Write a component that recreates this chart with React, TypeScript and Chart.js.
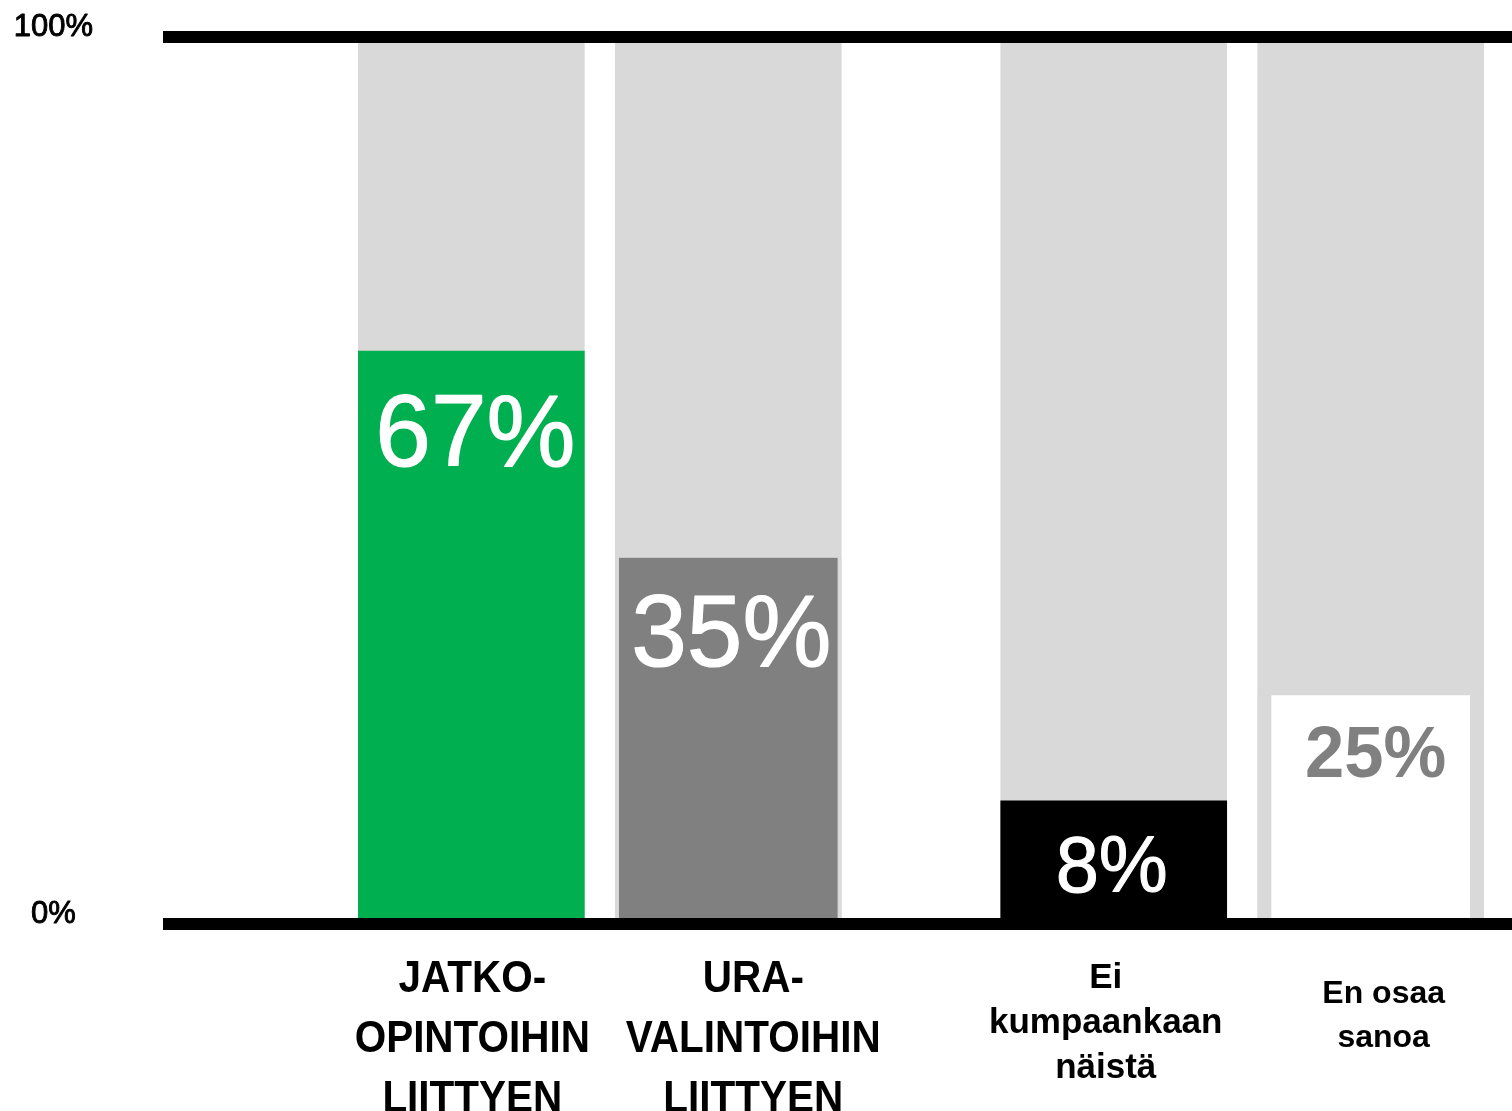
import React, { useEffect, useRef } from "react";
import { Chart, registerables } from "chart.js";

Chart.register(...registerables);

// ---------- data ----------
const categories: string[][] = [
  ["JATKO-", "OPINTOIHIN", "LIITTYEN"],
  ["URA-", "VALINTOIHIN", "LIITTYEN"],
  ["Ei", "kumpaankaan", "näistä"],
  ["En osaa", "sanoa"],
];
const barHeights = [64.6, 41.3, 13.9, 25.8];
const valueLabels = ["67%", "35%", "8%", "25%"];
const backgroundValues = [100, 100, 100, 100];
const yTickValues = [0, 100];
const yTickLabels = ["0%", "100%"];

// ---------- layout & style ----------
const CANVAS_W = 1512;
const CANVAS_H = 1111;
const SLOTS = [2, 4, 7, 9];
const X_MIN = -0.4;
const X_MAX = 10.1;
const BAR_W = 226;
const BAR_COLORS = ["#00B050", "#808080", "#000000", "#FFFFFF"];
const BAR_INSETS = [0, 4, 0, 14];
const BG_COLOR = "#D9D9D9";
const SANS = '"Liberation Sans", Arial, sans-serif';

const VALUE_COLORS = ["#FFFFFF", "#FFFFFF", "#FFFFFF", "#808080"];
const VALUE_FONTS = [`102px ${SANS}`, `102px ${SANS}`, `80px ${SANS}`, `bold 72px ${SANS}`];
const VALUE_SCALE = [0.98, 0.98, 0.97, 0.98];
const VALUE_STROKE = [1.2, 1.2, 1, 0];
const VALUE_BASE = [115, 108, 91, 82];
const VALUE_DX = [4, 3, -2, 5];

const CAT_FONTS = [`bold 44px ${SANS}`, `bold 44px ${SANS}`, `bold 35px ${SANS}`, `bold 32px ${SANS}`];
const CAT_SCALE = [0.92, 0.92, 1, 1];
const CAT_FIRST = [68, 68, 64, 79];
const CAT_LINE_H = [60, 60, 45, 43.5];
const CAT_DX = [1, 25, -8, 13];

const fgData = SLOTS.map((s, k) => ({ x: s, y: barHeights[k] }));
const bgData = SLOTS.map((s, k) => ({ x: s, y: backgroundValues[k] }));

function drawText(
  ctx: CanvasRenderingContext2D,
  text: string,
  x: number,
  y: number,
  font: string,
  color: string,
  scaleX = 1,
  stroke = 0
) {
  ctx.save();
  ctx.translate(x, y);
  ctx.scale(scaleX, 1);
  ctx.font = font;
  ctx.textAlign = "center";
  ctx.textBaseline = "alphabetic";
  ctx.fillStyle = color;
  ctx.fillText(text, 0, 0);
  if (stroke > 0) {
    ctx.strokeStyle = color;
    ctx.lineWidth = stroke;
    ctx.lineJoin = "round";
    ctx.strokeText(text, 0, 0);
  }
  ctx.restore();
}

const labelsPlugin = {
  id: "customLabels",
  afterDraw(chart: any) {
    const ctx = chart.ctx;
    const xs = chart.scales.x;
    const ys = chart.scales.y;
    const area = chart.chartArea;
    const meta = chart.getDatasetMeta(0);
    // value labels inside bars
    SLOTS.forEach((_, k) => {
      const el = meta.data[k];
      if (!el) return;
      drawText(ctx, valueLabels[k], el.x + VALUE_DX[k], el.y + VALUE_BASE[k], VALUE_FONTS[k], VALUE_COLORS[k], VALUE_SCALE[k], VALUE_STROKE[k]);
    });
    // category labels
    SLOTS.forEach((slot, k) => {
      const x = xs.getPixelForValue(slot) + CAT_DX[k];
      categories[k].forEach((line, j) => {
        drawText(ctx, line, x, area.bottom + CAT_FIRST[k] + j * CAT_LINE_H[k], CAT_FONTS[k], "#000000", CAT_SCALE[k], 0);
      });
    });
    // y labels
    yTickValues.forEach((v, k) => {
      const y = ys.getPixelForValue(v);
      drawText(ctx, yTickLabels[k], 53.5, y - 1, `31px ${SANS}`, "#000000", 1, 0.9);
    });
  },
};

export default function App() {
  const ref = useRef<HTMLCanvasElement | null>(null);
  useEffect(() => {
    if (!ref.current) return;
    const chart = new Chart(ref.current, {
      type: "bar",
      data: {
        datasets: [
          {
            data: fgData as any,
            order: 0,
            grouped: false,
            barThickness: BAR_W,
            backgroundColor: (c: any) => BAR_COLORS[c.dataIndex] ?? "transparent",
            borderColor: BG_COLOR,
            borderSkipped: false,
            borderWidth: (c: any) => {
              const w = BAR_INSETS[c.dataIndex] ?? 0;
              return { left: w, right: w, top: 0, bottom: 0 };
            },
          } as any,
          {
            data: bgData as any,
            order: 1,
            grouped: false,
            barThickness: BAR_W,
            backgroundColor: BG_COLOR,
            borderWidth: 0,
          } as any,
        ],
      },
      options: {
        animation: false,
        responsive: false,
        events: [],
        layout: { padding: { left: 163, right: 0, top: 37, bottom: CANVAS_H - 924 } },
        plugins: { legend: { display: false }, tooltip: { enabled: false } },
        scales: {
          x: { type: "linear", display: false, min: X_MIN, max: X_MAX, offset: false },
          y: {
            min: 0,
            max: 100,
            afterBuildTicks: (s: any) => {
              s.ticks = yTickValues.map((v) => ({ value: v }));
            },
            ticks: { display: false },
            border: { display: false },
            grid: { color: "#000000", lineWidth: 12, drawTicks: false, z: 1 },
          },
        },
      },
      plugins: [labelsPlugin],
    });
    return () => chart.destroy();
  }, []);
  return (
    <div
      style={{
        position: "absolute",
        left: 0,
        top: 0,
        width: CANVAS_W,
        height: CANVAS_H,
        overflow: "hidden",
        background: "#ffffff",
      }}
    >
      <canvas ref={ref} width={CANVAS_W} height={CANVAS_H} style={{ width: CANVAS_W, height: CANVAS_H, display: "block" }} />
    </div>
  );
}
